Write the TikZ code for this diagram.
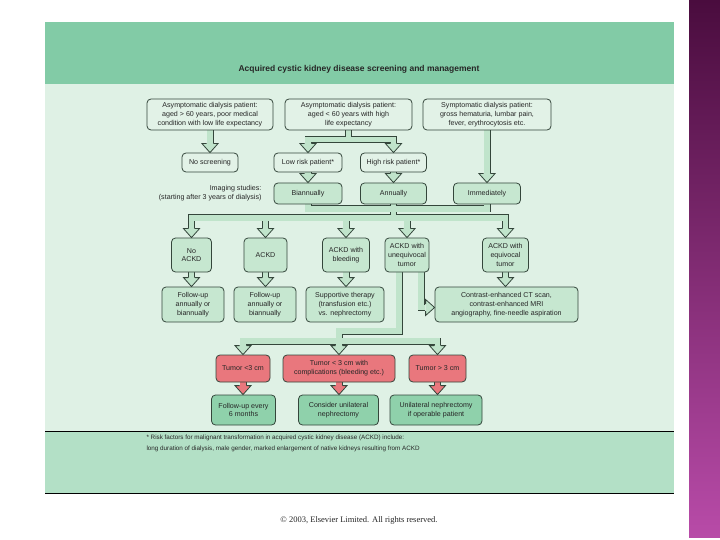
\documentclass[tikz,border=0pt]{standalone}
\usepackage{fontspec}
\setmainfont{Liberation Sans}
\newfontfamily\serifc{Liberation Serif}
\usetikzlibrary{calc}
\definecolor{edgec}{HTML}{34463B}
\definecolor{bodyc}{HTML}{DFF1E5}
\definecolor{headc}{HTML}{82CBA6}
\definecolor{footc}{HTML}{B3E0C6}
\definecolor{boxa}{HTML}{E2F2E7}
\definecolor{boxb}{HTML}{C6E7D0}
\definecolor{arrowc}{HTML}{C0E4CB}
\definecolor{boxg}{HTML}{8FD1AB}
\definecolor{redc}{HTML}{E9777D}
\definecolor{purtop}{HTML}{4A0C3E}
\definecolor{purbot}{HTML}{B84BA8}
\pgfdeclarelayer{back}
\pgfdeclarelayer{mid}
\pgfsetlayers{back,mid,main}
\def\gpath{%
(a1.south) -- ([yshift=9pt]noscr.north)
(a2.south) -- ([yshift=-9pt]a2.south)
([yshift=9pt]low.north) |- ([yshift=-9pt]a2.south) -| ([yshift=9pt]high.north)
(low.south) -- ([yshift=9pt]bian.north)
(high.south) -- ([yshift=9pt]ann.north)
(a3.south) -- ([yshift=9pt]imm.north)
(bian.south) |- (u1) -| (imm.south)
(ann.south) -- (bar1)
([yshift=9pt]noackd.north) |- (bar1) -| ([yshift=9pt]equiv.north)
(ackd.north |- bar1) -- ([yshift=9pt]ackd.north)
(bleed.north |- bar1) -- ([yshift=9pt]bleed.north)
(uneq.north |- bar1) -- ([yshift=9pt]uneq.north)
(noackd.south) -- ([yshift=9pt]noackd.south |- fu1.north)
(ackd.south) -- ([yshift=9pt]ackd.south |- fu2.north)
(bleed.south) -- ([yshift=9pt]bleed.south |- supp.north)
(equiv.south) -- ([yshift=9pt]equiv.south |- ct.north)
([xshift=14pt]uneq.south) |- ([xshift=-10pt,yshift=-3pt]ct.west)
([xshift=-8pt]uneq.south) |- (j2) -- (bar2)
([yshift=9pt]r1.north) |- (bar2) -| ([yshift=9pt]r3.north)
(r2.north |- bar2) -- ([yshift=9pt]r2.north)
}
\def\rpath{%
(r1.south) -- ([yshift=9pt]r1.south |- g1.north)
(r2.south) -- ([yshift=9pt]r2.south |- g2.north)
(r3.south) -- ([yshift=9pt]r3.south |- g3.north)
}
\begin{document}
\begin{tikzpicture}[x=1pt,y=-1pt,
 fbox/.style={draw=edgec, line width=0.8pt, rounded corners=4pt, inner sep=1pt, align=center, font=\fontsize{7.1}{8.7}\selectfont, text=black!85},
 pale/.style={fbox, fill=boxa},
 mint/.style={fbox, fill=boxb},
 deep/.style={fbox, fill=boxg},
 redb/.style={fbox, fill=redc},
 gO/.style={draw=edgec, line width=7pt},
 gI/.style={draw=arrowc, line width=5.4pt},
 rI/.style={draw=redc, line width=5.4pt},
 ghd/.pic={\fill[arrowc] (0,0) -- (-8,-9) -- (8,-9) -- cycle;
   \draw[edgec, line width=0.8pt, line join=miter] (-3.5,-9) -- (-8,-9) -- (0,0) -- (8,-9) -- (3.5,-9);},
 rhd/.pic={\fill[redc] (0,0) -- (-8,-9) -- (8,-9) -- cycle;
   \draw[edgec, line width=0.8pt, line join=miter] (-3.5,-9) -- (-8,-9) -- (0,0) -- (8,-9) -- (3.5,-9);}
]
\useasboundingbox (0,0) rectangle (720,540);
\begin{pgfonlayer}{back}
\fill[white] (0,0) rectangle (720,540);
\fill[headc] (45,22) rectangle (674,84);
\draw[headc!75!black, line width=0.8pt] (45,84) -- (674,84);
\fill[bodyc] (45,84.4) rectangle (674,431);
\fill[footc] (45,431) rectangle (674,493);
\draw[black, line width=0.7pt] (45,431) -- (674,431);
\draw[black, line width=0.9pt] (45,493) -- (674,493);
\shade[top color=purtop, bottom color=purbot] (689,0) rectangle (720,537);
\end{pgfonlayer}

\node[font=\fontsize{8.5}{10}\selectfont\bfseries, text=black!85] (title) at (359,69) {Acquired cystic kidney disease screening and management};

% row 1
\node[pale, minimum width=126pt, minimum height=31pt] (a1) at (210,114.5) {Asymptomatic dialysis patient:\\aged > 60 years, poor medical\\condition with low life expectancy};
\node[pale, minimum width=127pt, minimum height=31pt] (a2) at (348.5,114.5) {Asymptomatic dialysis patient:\\aged < 60 years with high\\life expectancy};
\node[pale, minimum width=128pt, minimum height=31pt] (a3) at (487,114.5) {Symptomatic dialysis patient:\\gross hematuria, lumbar pain,\\fever, erythrocytosis etc.};
% row 2
\node[pale, minimum width=56pt, minimum height=19pt] (noscr) at (210,162.5) {No screening};
\node[pale, minimum width=68pt, minimum height=19pt] (low) at (308,162.5) {Low risk patient*};
\node[pale, minimum width=66pt, minimum height=19pt] (high) at (393.5,162.5) {High risk patient*};
% row 3
\node[font=\fontsize{7.1}{9.5}\selectfont, align=right, anchor=east, text=black!85] (img) at (265,193) {Imaging studies:\\(starting after 3 years of dialysis)};
\node[mint, minimum width=68pt, minimum height=21pt] (bian) at (308,193.5) {Biannually};
\node[mint, minimum width=66pt, minimum height=21pt] (ann) at (393.5,193.5) {Annually};
\node[mint, minimum width=67pt, minimum height=21pt] (imm) at (487,193.5) {Immediately};
\coordinate (u1) at (393.5,209);
\coordinate (bar1) at (393.5,218);
% row 4
\node[mint, minimum width=40pt, minimum height=34pt] (noackd) at (191.5,255) {No\\ACKD};
\node[mint, minimum width=43pt, minimum height=34pt] (ackd) at (265.5,255) {ACKD};
\node[mint, minimum width=47pt, minimum height=34pt] (bleed) at (346,255) {ACKD with\\bleeding};
\node[mint, minimum width=44pt, minimum height=34pt] (uneq) at (407,255) {ACKD with\\unequivocal\\tumor};
\node[mint, minimum width=46pt, minimum height=34pt] (equiv) at (505.5,255) {ACKD with\\equivocal\\tumor};
% row 5
\node[mint, minimum width=62pt, minimum height=35pt] (fu1) at (193,304.5) {Follow-up\\annually or\\biannually};
\node[mint, minimum width=62pt, minimum height=35pt] (fu2) at (265,304.5) {Follow-up\\annually or\\biannually};
\node[mint, minimum width=78pt, minimum height=35pt] (supp) at (345,304.5) {Supportive therapy\\(transfusion etc.)\\vs. nephrectomy};
\node[mint, minimum width=143pt, minimum height=35pt] (ct) at (506.5,304.5) {Contrast-enhanced CT scan,\\contrast-enhanced MRI\\angiography, fine-needle aspiration};
\coordinate (j2) at (339,331);
\coordinate (bar2) at (339,341);
% row 6
\node[redb, minimum width=54pt, minimum height=27pt] (r1) at (243,368.5) {Tumor <3 cm};
\node[redb, minimum width=112pt, minimum height=27pt] (r2) at (339,368.5) {Tumor < 3 cm with\\complications (bleeding etc.)};
\node[redb, minimum width=57pt, minimum height=27pt] (r3) at (437.5,368.5) {Tumor > 3 cm};
% row 7
\node[deep, minimum width=64pt, minimum height=30pt] (g1) at (243.5,410) {Follow-up every\\6 months};
\node[deep, minimum width=80pt, minimum height=30pt] (g2) at (338.5,410) {Consider unilateral\\nephrectomy};
\node[deep, minimum width=92pt, minimum height=30pt] (g3) at (436,410) {Unilateral nephrectomy\\if operable patient};

% footnote and copyright
\node[font=\fontsize{6.3}{11}\selectfont, align=left, anchor=west, text=black!85] (fn) at (143,443.5) {* Risk factors for malignant transformation in acquired cystic kidney disease (ACKD) include:\\long duration of dialysis, male gender, marked enlargement of native kidneys resulting from ACKD};
\node[font=\serifc\fontsize{8.5}{10}\selectfont, text=black!85] (copy) at (359,520) {\textcopyright{} 2003, Elsevier Limited. All rights reserved.};

% shafts
\begin{pgfonlayer}{mid}
\draw[gO] \gpath;
\draw[gI] \gpath;
\draw[gO] \rpath;
\draw[rI] \rpath;
\end{pgfonlayer}

% heads
\foreach \t in {noscr.north, low.north, high.north, bian.north, ann.north, imm.north,
  noackd.north, ackd.north, bleed.north, uneq.north, equiv.north, r1.north, r2.north, r3.north}
  \pic at (\t) {ghd};
\pic at (noackd.south |- fu1.north) {ghd};
\pic at (ackd.south |- fu2.north) {ghd};
\pic at (bleed.south |- supp.north) {ghd};
\pic at (equiv.south |- ct.north) {ghd};
\pic[rotate=90] at ([yshift=-3pt]ct.west) {ghd};
\pic at (r1.south |- g1.north) {rhd};
\pic at (r2.south |- g2.north) {rhd};
\pic at (r3.south |- g3.north) {rhd};
\end{tikzpicture}
\end{document}
